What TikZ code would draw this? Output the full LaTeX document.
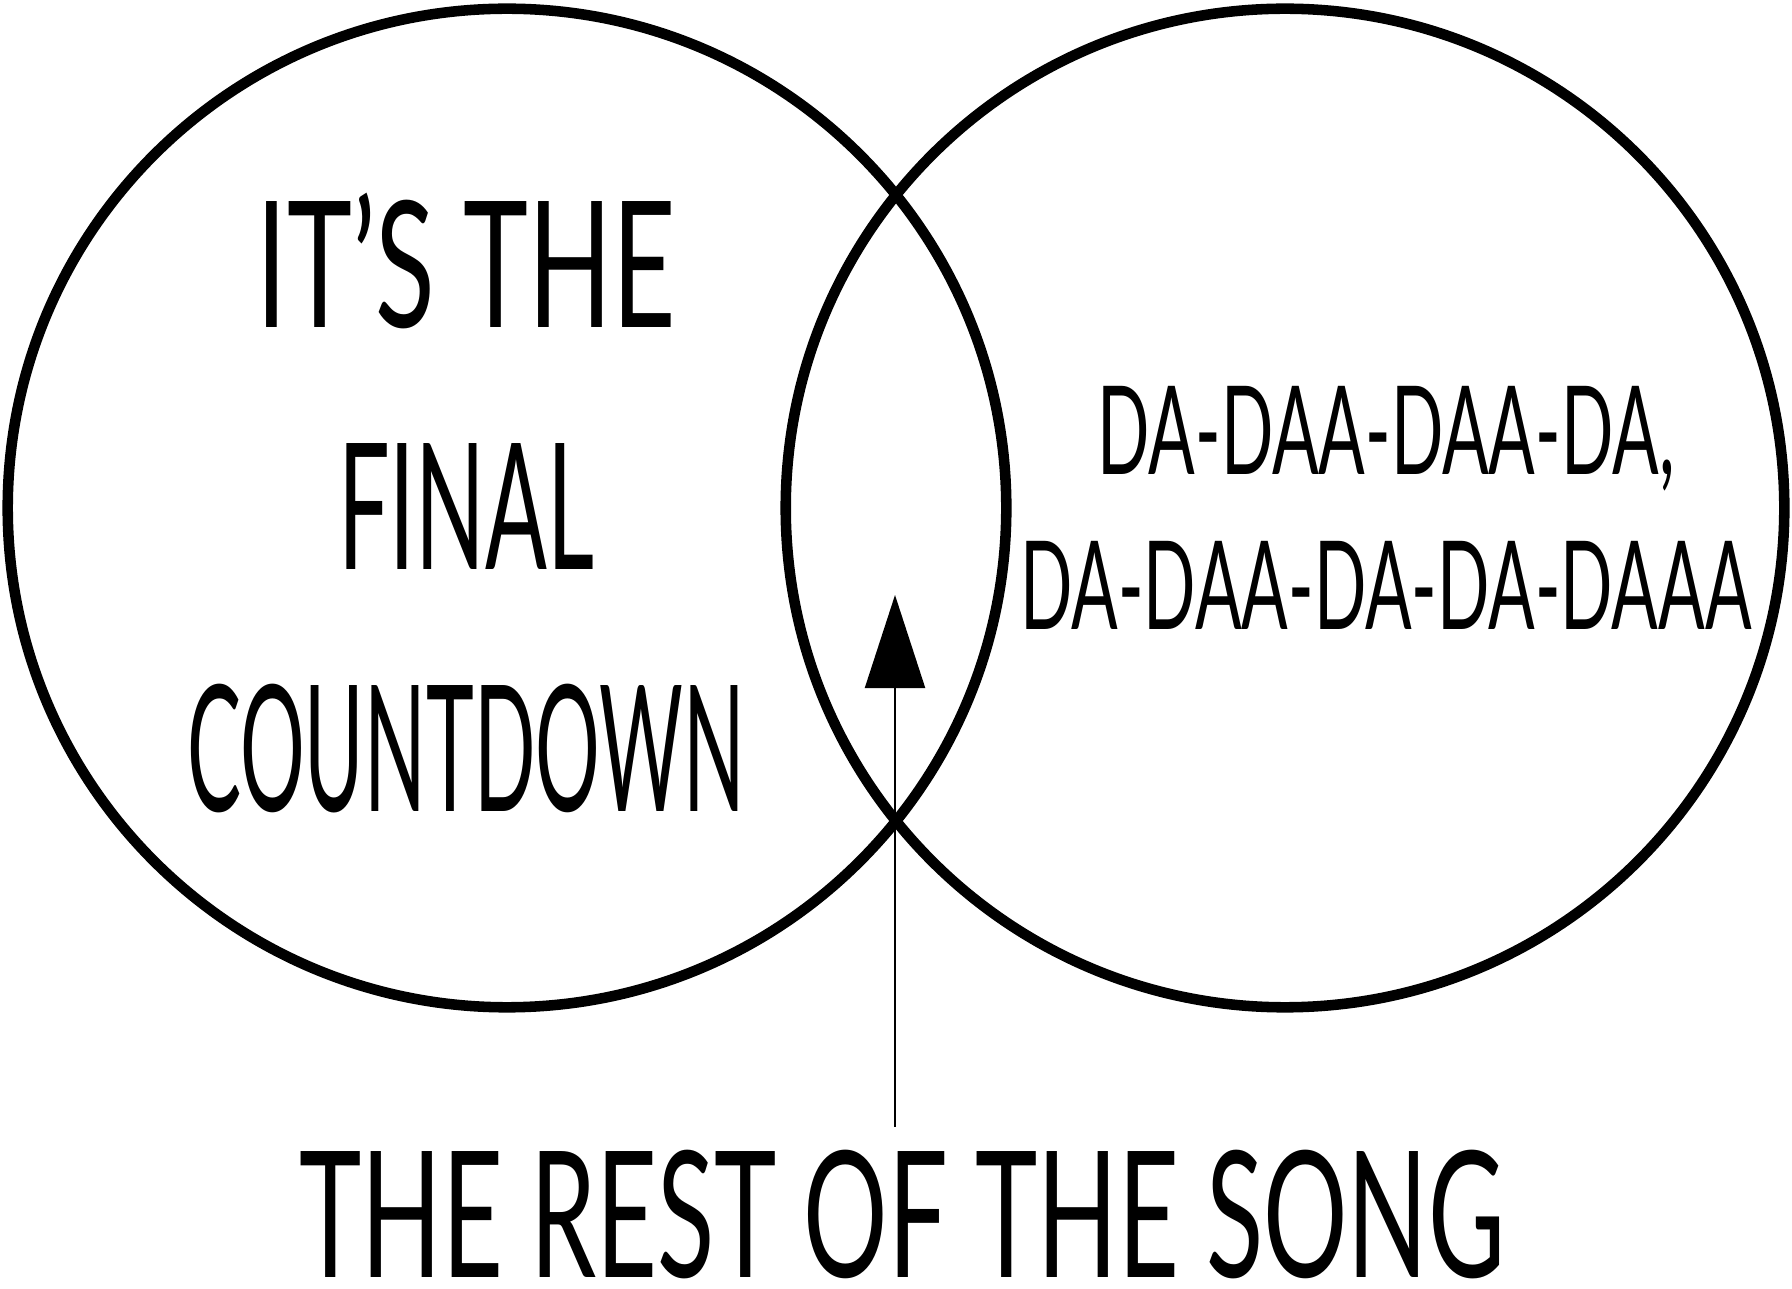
\documentclass[tikz,border=0pt]{standalone}
\usepackage{fontspec}
\setmainfont[FakeStretch=0.6]{Lato}
\newfontfamily\itsfont[FakeStretch=0.625, Ligatures=TeX]{Lato}
\newfontfamily\finalfont[FakeStretch=0.52, Ligatures=TeX]{Lato}
\newfontfamily\countfont[FakeStretch=0.46, Ligatures=TeX]{Lato}
\newfontfamily\dafont[FakeStretch=0.56, Ligatures=TeX]{Lato}
\usetikzlibrary{shapes,arrows.meta,positioning}
\tikzstyle{venn} = [draw, circle, line width=3pt, minimum size=9.98cm, inner sep=0pt]
\tikzstyle{big} = [font=\fontsize{50}{60}\selectfont, inner sep=0pt, text height=36pt, text depth=0pt]
\tikzstyle{small} = [font=\dafont\fontsize{35}{42}\selectfont, inner sep=0pt, text height=25pt, text depth=0pt]
\tikzstyle{line} = [draw, line width=0.6pt, -{Triangle[width=0.6cm,length=0.93cm]}]

\begin{document}
\begin{tikzpicture}[x=0.01cm, y=-0.01cm, node distance=2.42cm]
    \useasboundingbox (0,0) rectangle (1792,1289);
    % Place nodes
    \node [venn] (left) at (507,508) {};
    \node [venn] (right) at (1285,508) {};
    \node [big] (its) at (466,264) {\itsfont IT'S THE};
    \node [big, below of=its] (final) {\finalfont FINAL};
    \node [big, below of=final] (countdown) {\countfont COUNTDOWN};
    \node [small] (da1) at (1386,431) {DA-DAA-DAA-DA,};
    \node [small, node distance=1.54cm, below of=da1] (da2) {DA-DAA-DA-DA-DAAA};
    \node [big] (song) at (902,1214) {THE REST OF THE SONG};
    \coordinate (tip) at (895,595);

    \path [line, shorten <=0.23cm] (song.north -| tip) -- (tip);
\end{tikzpicture}
\end{document}
